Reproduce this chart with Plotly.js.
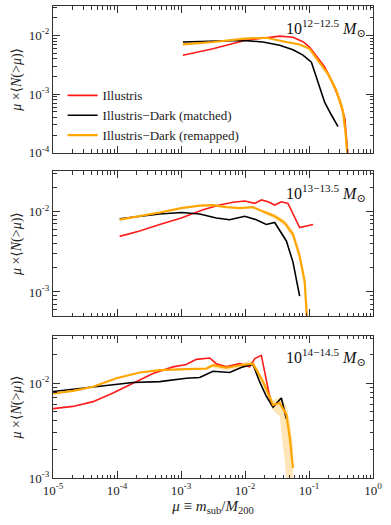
<!DOCTYPE html>
<html>
<head>
<meta charset="utf-8">
<script src="https://cdn.plot.ly/plotly-3.0.1.min.js"></script>
<style>
  html, body { margin: 0; padding: 0; background: #fff; }
  #chart { width: 391px; height: 525px; }
</style>
</head>
<body>
<div id="chart"></div>
<script>
// ---- panel 1 : 10^12-12.5 Msun ----
const p1RedX = [1.07e-3, 3.16e-3, 9.9e-3, 0.0348, 0.0562, 0.0805, 0.102, 0.138, 0.176, 0.237, 0.302, 0.363, 0.383, 0.407];
const p1RedY = [4.6e-3, 5.9e-3, 8.2e-3, 9.7e-3, 9.3e-3, 7.8e-3, 6.3e-3, 4.0e-3, 2.9e-3, 1.5e-3, 7.8e-4, 3.8e-4, 2.1e-4, 9e-5];
const p1BlkX = [1.07e-3, 3.16e-3, 9.3e-3, 0.019, 0.0348, 0.0562, 0.0805, 0.109, 0.123, 0.147, 0.176, 0.224, 0.284];
const p1BlkY = [7.7e-3, 7.9e-3, 8.2e-3, 7.7e-3, 6.8e-3, 5.7e-3, 4.6e-3, 3.5e-3, 2.4e-3, 1.3e-3, 7.2e-4, 4.4e-4, 2.8e-4];
const p1OrgX = [1.07e-3, 3.16e-3, 0.01, 0.0215, 0.0443, 0.0714, 0.102, 0.147, 0.198, 0.267, 0.339, 0.374, 0.398];
const p1OrgY = [7.0e-3, 7.7e-3, 8.8e-3, 9.1e-3, 7.7e-3, 7.0e-3, 5.9e-3, 3.5e-3, 2.2e-3, 1.15e-3, 5.2e-4, 2.1e-4, 9e-5];
const p1BandX = [0.102, 0.147, 0.198, 0.267, 0.339, 0.374, 0.398];
const p1BandHi = [6.3e-3, 3.9e-3, 2.5e-3, 1.35e-3, 6.5e-4, 3e-4, 1.2e-4];
const p1BandLo = [5.6e-3, 3.2e-3, 1.95e-3, 1.0e-3, 4e-4, 1.4e-4, 5e-5];

// ---- panel 2 : 10^13-13.5 Msun ----
const p2RedX = [1.1e-4, 2.26e-4, 4.65e-4, 1.01e-3, 2.21e-3, 4.02e-3, 6.49e-3, 9.9e-3, 0.0142, 0.018, 0.0229, 0.0291, 0.037, 0.047, 0.0714, 0.116];
const p2RedY = [4.9e-3, 5.7e-3, 6.9e-3, 8.3e-3, 0.0105, 0.012, 0.013, 0.0135, 0.0126, 0.0139, 0.0132, 0.012, 0.0132, 0.0126, 6.3e-3, 6.9e-3];
const p2BlkX = [1.1e-4, 2.26e-4, 4.65e-4, 1.01e-3, 1.96e-3, 3.56e-3, 5.75e-3, 9.9e-3, 0.015, 0.0215, 0.0291, 0.0443, 0.0562, 0.0714];
const p2BlkY = [8.1e-3, 8.7e-3, 9.3e-3, 9.7e-3, 9.3e-3, 8.3e-3, 7.9e-3, 8.7e-3, 7.9e-3, 6.9e-3, 7.3e-3, 4.3e-3, 2.35e-3, 8.9e-4];
const p2OrgX = [1.1e-4, 2.26e-4, 4.65e-4, 1.01e-3, 1.96e-3, 3.16e-3, 5.1e-3, 8.26e-3, 0.0133, 0.0191, 0.0291, 0.0417, 0.0562, 0.0714, 0.0855, 0.0933];
const p2OrgY = [7.9e-3, 8.7e-3, 9.7e-3, 0.011, 0.0118, 0.012, 0.0113, 0.011, 0.0113, 0.01, 8.7e-3, 7.2e-3, 5.2e-3, 2.8e-3, 1.35e-3, 4.5e-4];
const p2BandX = [0.0191, 0.0291, 0.0417, 0.0562, 0.0714, 0.0855, 0.0933];
const p2BandHi = [0.0106, 9.3e-3, 7.9e-3, 5.8e-3, 3.2e-3, 1.6e-3, 6e-4];
const p2BandLo = [9.5e-3, 8.1e-3, 6.6e-3, 4.6e-3, 2.4e-3, 1.1e-3, 3e-4];

// ---- panel 3 : 10^14-14.5 Msun ----
const p3RedX = [1.0e-5, 2.05e-5, 4.22e-5, 8.66e-5, 1.78e-4, 3.65e-4, 7.5e-4, 1.21e-3, 1.74e-3, 2.81e-3, 3.56e-3, 5.1e-3, 8.26e-3, 0.0118, 0.0142, 0.018, 0.0258];
const p3RedY = [5.4e-3, 5.7e-3, 6.4e-3, 7.9e-3, 0.01, 0.0127, 0.0149, 0.0158, 0.0179, 0.0185, 0.0161, 0.0149, 0.0161, 0.0149, 0.0182, 0.0197, 5.9e-3];
const p3BlkX = [1e-5, 2.95e-5, 8.66e-5, 1.78e-4, 4.65e-4, 7.5e-4, 1.21e-3, 1.96e-3, 3.16e-3, 5.75e-3, 9.3e-3, 0.0133, 0.0169, 0.0215, 0.0274, 0.037, 0.0443];
const p3BlkY = [8.2e-3, 8.9e-3, 9.5e-3, 0.0102, 0.0104, 0.0108, 0.0113, 0.0115, 0.0134, 0.013, 0.0149, 0.0159, 0.0104, 7.3e-3, 5.6e-3, 7.0e-3, 4.2e-3];
const p3OrgX = [1e-5, 2.05e-5, 4.22e-5, 9.8e-5, 2.26e-4, 4.65e-4, 1.21e-3, 2.49e-3, 3.16e-3, 5.1e-3, 8.26e-3, 0.0133, 0.0191, 0.0274, 0.0348, 0.0443, 0.0499, 0.0562];
const p3OrgY = [7.8e-3, 8.3e-3, 9.2e-3, 0.0113, 0.013, 0.0138, 0.0141, 0.0143, 0.0155, 0.0146, 0.0155, 0.0161, 0.0104, 5.9e-3, 6.2e-3, 4.7e-3, 2.7e-3, 1.28e-3];
const p3BandX = [3.16e-3, 5.1e-3, 8.26e-3, 0.0133, 0.0191, 0.0274, 0.0348, 0.0443, 0.0499, 0.0562];
const p3BandHi = [0.0165, 0.0155, 0.0165, 0.0172, 0.0113, 6.6e-3, 7.2e-3, 5.8e-3, 4.0e-3, 2.2e-3];
const p3BandLo = [0.0145, 0.0137, 0.0145, 0.015, 9.5e-3, 5.2e-3, 4.5e-3, 9e-4, 5e-4, 5e-4];

const massLabels = ['10<sup>12\u221212.5</sup> <i>M</i><sub>\u2299</sub>',
                    '10<sup>13\u221213.5</sup> <i>M</i><sub>\u2299</sub>',
                    '10<sup>14\u221214.5</sup> <i>M</i><sub>\u2299</sub>'];
const seriesNames = ['Illustris', 'Illustris\u2212Dark (matched)', 'Illustris\u2212Dark (remapped)'];

const RED = '#ff1a1a', BLK = '#000000', ORG = '#ffa500', BAND = 'rgba(255,165,0,0.28)';
const FONT = '"Liberation Serif", "DejaVu Serif", serif';

function band(xs, lo, hi, ax) {
  return [
    {x: xs, y: lo, xaxis: 'x' + ax, yaxis: 'y' + ax, mode: 'lines', line: {width: 0}, showlegend: false, hoverinfo: 'skip'},
    {x: xs, y: hi, xaxis: 'x' + ax, yaxis: 'y' + ax, mode: 'lines', line: {width: 0}, fill: 'tonexty', fillcolor: BAND, showlegend: false, hoverinfo: 'skip'}
  ];
}
function line(xs, ys, color, ax, name, show) {
  return {x: xs, y: ys, xaxis: 'x' + ax, yaxis: 'y' + ax, mode: 'lines', name: name,
          showlegend: show, line: {color: color, width: color === ORG ? 2.2 : 1.6}};
}

const traces = [].concat(
  band(p1BandX, p1BandLo, p1BandHi, ''),
  band(p2BandX, p2BandLo, p2BandHi, '2'),
  band(p3BandX, p3BandLo, p3BandHi, '3'),
  [line(p1RedX, p1RedY, RED, '', seriesNames[0], true),
   line(p1BlkX, p1BlkY, BLK, '', seriesNames[1], true),
   line(p1OrgX, p1OrgY, ORG, '', seriesNames[2], true),
   line(p2RedX, p2RedY, RED, '2', '', false),
   line(p2BlkX, p2BlkY, BLK, '2', '', false),
   line(p2OrgX, p2OrgY, ORG, '2', '', false),
   line(p3RedX, p3RedY, RED, '3', '', false),
   line(p3BlkX, p3BlkY, BLK, '3', '', false),
   line(p3OrgX, p3OrgY, ORG, '3', '', false)]
);

// minor tick positions 2..9 per decade
const minorVals = [];
for (let e = -6; e <= 0; e++) for (let m = 2; m <= 9; m++) minorVals.push(m * Math.pow(10, e));

const xTickVals = [1e-5, 1e-4, 1e-3, 1e-2, 1e-1, 1];
const xTickText = ['10<sup>-5</sup>', '10<sup>-4</sup>', '10<sup>-3</sup>', '10<sup>-2</sup>', '10<sup>-1</sup>', '10<sup>0</sup>'];
const yTickVals = [1e-4, 1e-3, 1e-2];
const yTickText = ['10<sup>-4</sup>', '10<sup>-3</sup>', '10<sup>-2</sup>'];

function xAx(anchor, labels) {
  return {
    type: 'log', range: [-5, 0], anchor: anchor, domain: [0, 1],
    tickmode: 'array', tickvals: xTickVals, ticktext: xTickText, showticklabels: labels,
    ticks: 'inside', ticklen: 7, tickcolor: '#333', mirror: 'allticks',
    showline: true, linecolor: '#333', linewidth: 1, showgrid: false, zeroline: false,
    minor: {tickmode: 'array', tickvals: minorVals, ticks: 'inside', ticklen: 3.5, tickcolor: '#333', showgrid: false},
    tickfont: {family: FONT, size: 13, color: '#222'},
    title: labels ? {text: '<i>\u03bc</i> \u2261 <i>m</i><sub>sub</sub>/<i>M</i><sub>200</sub>', font: {family: FONT, size: 15, color: '#222'}, standoff: 3} : {text: ''}
  };
}
function yAx(anchor, range, domain) {
  return {
    type: 'log', range: range, anchor: anchor, domain: domain,
    tickmode: 'array', tickvals: yTickVals, ticktext: yTickText,
    ticks: 'inside', ticklen: 7, tickcolor: '#333', mirror: 'allticks',
    showline: true, linecolor: '#333', linewidth: 1, showgrid: false, zeroline: false,
    minor: {tickmode: 'array', tickvals: minorVals, ticks: 'inside', ticklen: 3.5, tickcolor: '#333', showgrid: false},
    tickfont: {family: FONT, size: 13, color: '#222'},
    title: {text: '<i>\u03bc</i> \u00d7\u27e8<i>N</i>(&gt;<i>\u03bc</i>)\u27e9', font: {family: FONT, size: 14, color: '#222'}, standoff: 3}
  };
}

const layout = {
  width: 391, height: 525,
  margin: {l: 53, r: 18, t: 6, b: 47},
  paper_bgcolor: '#fff', plot_bgcolor: '#fff',
  font: {family: FONT, color: '#222'},
  xaxis: xAx('y', false),
  xaxis2: xAx('y2', false),
  xaxis3: xAx('y3', true),
  yaxis: yAx('x', [-4, -1.5], [0.689, 1]),
  yaxis2: yAx('x2', [-3.3, -1.5], [0.343, 0.650]),
  yaxis3: yAx('x3', [-3, -1.5], [0, 0.301]),
  legend: {x: 0.03, y: 0.694, xanchor: 'left', yanchor: 'bottom', bgcolor: 'rgba(0,0,0,0)',
           traceorder: 'normal', font: {family: FONT, size: 13, color: '#222'}, tracegroupgap: 0},
  annotations: massLabels.map((t, i) => ({
    text: t, xref: 'x' + (i ? i + 1 : '') + ' domain', yref: 'y' + (i ? i + 1 : '') + ' domain',
    x: 0.985, y: 0.94, xanchor: 'right', yanchor: 'top', showarrow: false,
    font: {family: FONT, size: 16, color: '#111'}
  })),
  showlegend: true
};

Plotly.newPlot('chart', traces, layout, {displayModeBar: false, staticPlot: true});
</script>
</body>
</html>
